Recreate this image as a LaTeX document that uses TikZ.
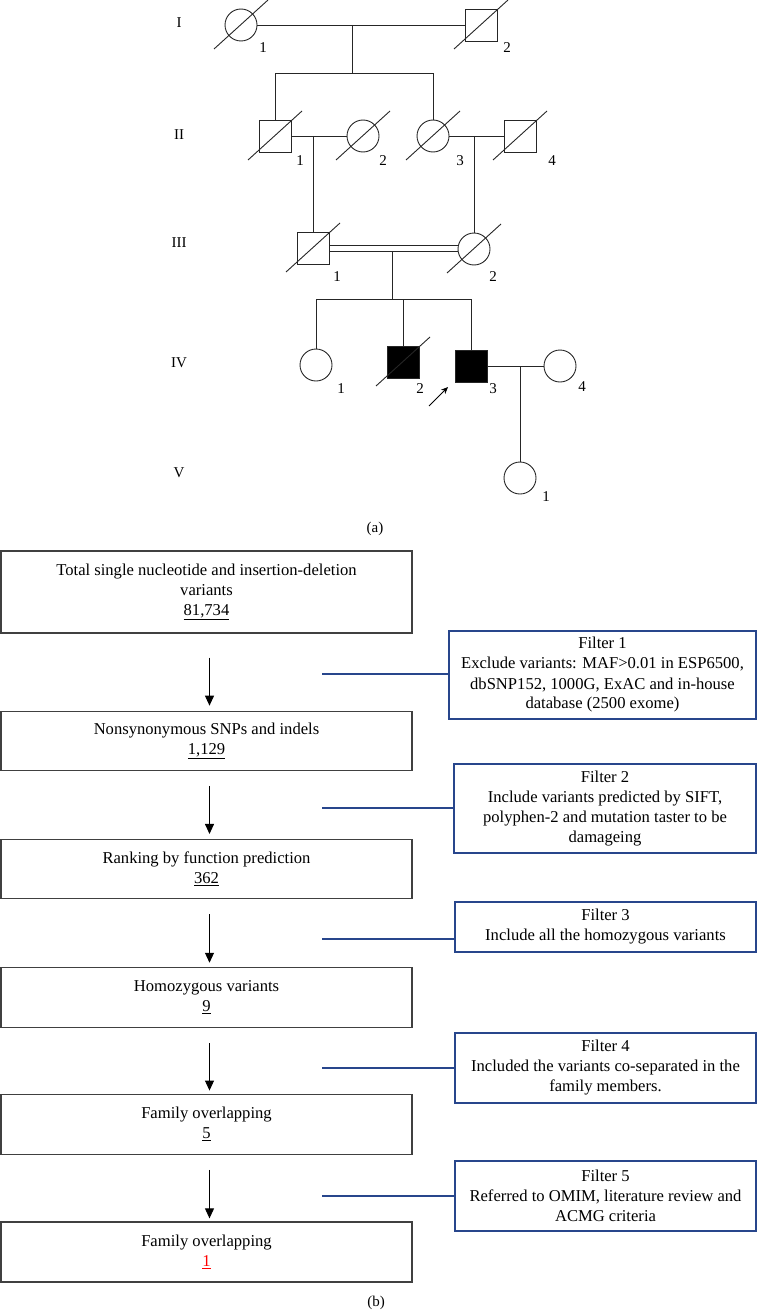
\documentclass[tikz,border=0pt]{standalone}
\usepackage{fontspec}
\setmainfont{Liberation Serif}
\usetikzlibrary{positioning,arrows.meta}

\definecolor{filterblue}{RGB}{40,70,140}
\newcommand{\deceased}[1]{\draw[pedline] (#1) ++(-27,24) -- ++(54,-49);}

\begin{document}
\begin{tikzpicture}[x=1pt, y=-1pt,
pedline/.style={black!85, line width=0.9pt},
female/.style={circle, draw=black!85, line width=0.9pt, minimum size=32pt, inner sep=0pt},
male/.style={rectangle, draw=black!85, line width=0.9pt, minimum size=32pt, inner sep=0pt},
affected/.style={fill=black},
numlabel/.style={inner sep=0pt, font=\fontsize{15}{15}\selectfont},
flowbox/.style={rectangle, draw=black!75, line width=1.3pt, minimum width=411pt, minimum height=59pt, inner sep=0pt, align=center, font=\fontsize{16.6}{20}\selectfont},
filterbox/.style={rectangle, draw=filterblue, line width=1.3pt, inner sep=0pt, align=center, font=\fontsize{16.6}{20}\selectfont},
bluelink/.style={draw=filterblue, line width=1.2pt},
flowarrow/.style={-{Triangle[length=10pt,width=9pt]}, line width=0.9pt},
]
\useasboundingbox (0,0) rectangle (757,1311);

%Nodes
\node[numlabel] (gI)   at (179,23)  {I};
\node[numlabel] (gII)  at (179,135) {II};
\node[numlabel] (gIII) at (179,243) {III};
\node[numlabel] (gIV)  at (179,363) {IV};
\node[numlabel] (gV)   at (179,473) {V};

\node[female] (I1) at (241,25) {};
\node[male]   (I2) at (481,25) {};
\node[male]   (II1) at (275,136) {};
\node[female] (II2) at (363,136) {};
\node[female] (II3) at (433,136) {};
\node[male]   (II4) at (520,136) {};
\node[male]   (III1) at (313,248) {};
\node[female] (III2) at (474,249) {};
\node[female] (IV1) at (316,365) {};
\node[male, affected] (IV2) at (403,362) {};
\node[male, affected] (IV3) at (471,366) {};
\node[female] (IV4) at (560,366) {};
\node[female] (V1) at (520,478) {};

\node[numlabel] (nI1)   at (263,48)  {1};
\node[numlabel] (nI2)   at (507,48)  {2};
\node[numlabel] (nII1)  at (300,161) {1};
\node[numlabel] (nII2)  at (383,161) {2};
\node[numlabel] (nII3)  at (460,161) {3};
\node[numlabel] (nII4)  at (552,161) {4};
\node[numlabel] (nIII1) at (337,277) {1};
\node[numlabel] (nIII2) at (493,277) {2};
\node[numlabel] (nIV1)  at (341,389) {1};
\node[numlabel] (nIV2)  at (420,389) {2};
\node[numlabel] (nIV3)  at (493,389) {3};
\node[numlabel] (nIV4)  at (582,387) {4};
\node[numlabel] (nV1)   at (546,497) {1};

\node[numlabel] (capa) at (375,529) {(a)};

\coordinate (mI)   at (352,25);
\coordinate (sI)   at (352,73);
\coordinate (mIII) at (392,251);
\coordinate (sIII) at (392,299);
\coordinate (pbtail) at (429,406);
\coordinate (pbtip)  at (448,387);

%Lines
\draw[pedline] (I1.east) -- (I2.west);
\draw[pedline] (mI) -- (sI);
\draw[pedline] (II1.north) -- (II1.north |- sI) -- (II3.north |- sI) -- (II3.north);
\draw[pedline] (II1.east) -- (II2.west);
\draw[pedline] (II3.east) -- (II4.west);
\draw[pedline] (III1.north |- II1.east) -- (III1.north);
\draw[pedline] (III2.north |- II3.east) -- (III2.north);
\draw[pedline] ([yshift=3pt]III1.east) -- ([yshift=3pt]III1.east -| III2.west);
\draw[pedline] ([yshift=-3pt]III1.east) -- ([yshift=-3pt]III1.east -| III2.west);
\draw[pedline] (mIII) -- (sIII);
\draw[pedline] (IV1.north) -- (IV1.north |- sIII) -- (IV3.north |- sIII) -- (IV3.north);
\draw[pedline] (IV2.north |- sIII) -- (IV2.north);
\draw[pedline] (IV3.east) -- (IV4.west);
\draw[pedline] (V1.north |- IV4.west) -- (V1.north);
\draw[-{Stealth[length=7pt,width=6pt]}, line width=0.9pt] (pbtail) -- (pbtip);

\deceased{I1} \deceased{I2}
\deceased{II1} \deceased{II2} \deceased{II3} \deceased{II4}
\deceased{III1} \deceased{III2}
\deceased{IV2}

%Flow chart
\node[flowbox, minimum height=82pt] (total) at (206.5,592) {Total single nucleotide and insertion-deletion\\variants\\\underline{81,734}};
\node[flowbox] (nonsyn)  [below=77pt of total]  {Nonsynonymous SNPs and indels\\\underline{1,129}};
\node[flowbox] (ranking) [below=68pt of nonsyn] {Ranking by function prediction\\\underline{362}};
\node[flowbox, minimum height=60pt] (homoz) [below=67.5pt of ranking] {Homozygous variants\\\underline{9}};
\node[flowbox, minimum height=60pt] (family) [below=65.5pt of homoz] {Family overlapping\\\underline{5}};
\node[flowbox, minimum height=60pt] (final) [below=66.5pt of family] {Family overlapping\\\textcolor{red}{\underline{1}}};

\node[filterbox, minimum width=307pt, minimum height=88pt] (filter1) at (602.5,675) {Filter 1\\Exclude variants: MAF>0.01 in ESP6500,\\dbSNP152, 1000G, ExAC and in-house\\database (2500 exome)};
\node[filterbox, minimum width=302pt, minimum height=89pt] (filter2) at (605,808.5) {Filter 2\\Include variants predicted by SIFT,\\polyphen-2 and mutation taster to be\\damageing};
\node[filterbox, minimum width=301pt, minimum height=50pt] (filter3) at (605.5,927) {Filter 3\\Include all the homozygous variants};
\node[filterbox, minimum width=301pt, minimum height=70pt] (filter4) at (605.5,1068) {Filter 4\\Included the variants co-separated in the\\family members.};
\node[filterbox, minimum width=301pt, minimum height=70pt] (filter5) at (605.5,1196) {Filter 5\\Referred to OMIM, literature review and\\ACMG criteria};

\node[numlabel] (capb) at (376,1303) {(b)};

\coordinate (tap1) at (322,674);
\coordinate (tap2) at (322,808);
\coordinate (tap3) at (322,939);
\coordinate (tap4) at (322,1068);
\coordinate (tap5) at (322,1196);

\draw[flowarrow, shorten <=24pt, shorten >=5pt] ([xshift=3pt]total.south) -- ([xshift=3pt]nonsyn.north);
\draw[flowarrow, shorten <=15pt, shorten >=5pt] ([xshift=3pt]nonsyn.south) -- ([xshift=3pt]ranking.north);
\draw[flowarrow, shorten <=15pt, shorten >=4pt] ([xshift=3pt]ranking.south) -- ([xshift=3pt]homoz.north);
\draw[flowarrow, shorten <=15pt, shorten >=3pt] ([xshift=3pt]homoz.south) -- ([xshift=3pt]family.north);
\draw[flowarrow, shorten <=15pt, shorten >=3pt] ([xshift=3pt]family.south) -- ([xshift=3pt]final.north);

\draw[bluelink] (tap1) -- (tap1 -| filter1.west);
\draw[bluelink] (tap2) -- (tap2 -| filter2.west);
\draw[bluelink] (tap3) -- (tap3 -| filter3.west);
\draw[bluelink] (tap4) -- (tap4 -| filter4.west);
\draw[bluelink] (tap5) -- (tap5 -| filter5.west);
\end{tikzpicture}
\end{document}
